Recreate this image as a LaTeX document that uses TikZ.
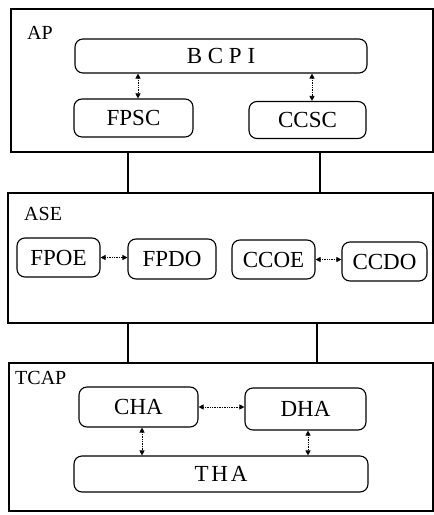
\documentclass[tikz,border=0pt]{standalone}
\usepackage{fontspec}
\setmainfont{Liberation Serif}
\usetikzlibrary{arrows.meta}
\begin{document}
\begin{tikzpicture}[x=1pt,y=-1pt,
  frame/.style={draw,line width=1.6pt,inner sep=0pt,anchor=north west},
  unit/.style={draw,line width=1.1pt,rounded corners=8pt,inner sep=0pt,font=\fontsize{23}{23}\selectfont},
  lbl/.style={anchor=base west,inner sep=0pt,font=\fontsize{20}{20}\selectfont},
  link/.style={line width=1.2pt},
  biarrow/.style={densely dotted,line width=0.7pt,{Triangle[length=5pt,width=5pt]}-{Triangle[length=5pt,width=5pt]}}
]
\useasboundingbox (0,0) rectangle (434,515);
% frames
\node[frame,minimum width=422pt,minimum height=143pt] (ap) at (10,8) {};
\node[frame,minimum width=425pt,minimum height=130pt] (ase) at (7,192) {};
\node[frame,minimum width=424pt,minimum height=148pt] (tcap) at (8,362) {};
% labels
\node[lbl] (aplbl) at (27,39) {AP};
\node[lbl] (aselbl) at (24,220) {ASE};
\node[lbl] (tcaplbl) at (15,384) {TCAP};
% AP units
\node[unit,minimum width=292pt,minimum height=34pt] (bcpi) at (221,56) {B C P I};
\node[unit,minimum width=119pt,minimum height=38pt] (fpsc) at (133.5,118) {FPSC};
\node[unit,minimum width=117pt,minimum height=37pt] (ccsc) at (307.5,120) {CCSC};
\draw[biarrow] (bcpi.south -| 138,0) -- (fpsc.north -| 138,0);
\draw[biarrow] (bcpi.south -| 312,0) -- (ccsc.north -| 312,0);
% ASE units
\node[unit,minimum width=83pt,minimum height=39pt] (fpoe) at (58.5,257.5) {FPOE};
\node[unit,minimum width=88pt,minimum height=40pt] (fpdo) at (172,259) {FPDO};
\node[unit,minimum width=83pt,minimum height=39pt] (ccoe) at (273.5,259.5) {CCOE};
\node[unit,minimum width=85pt,minimum height=39pt] (ccdo) at (384.5,261.5) {CCDO};
\draw[biarrow] (fpoe.east) -- (fpdo.west |- fpoe.east);
\draw[biarrow] (ccoe.east) -- (ccdo.west |- ccoe.east);
% TCAP units
\node[unit,minimum width=119pt,minimum height=40pt] (cha) at (138.5,407) {CHA};
\node[unit,minimum width=121pt,minimum height=42pt] (dha) at (305.5,409) {DHA};
\node[unit,minimum width=294pt,minimum height=36pt] (tha) at (221,474) {\spaceskip=0.12em T H A};
\draw[biarrow] (cha.east) -- (dha.west |- cha.east);
\draw[biarrow] (cha.south -| 142,0) -- (tha.north -| 142,0);
\draw[biarrow] (dha.south -| 308,0) -- (tha.north -| 308,0);
% links between frames
\draw[link] (ap.south -| 128,0) -- (ase.north -| 128,0);
\draw[link] (ap.south -| 320,0) -- (ase.north -| 320,0);
\draw[link] (ase.south -| 128,0) -- (tcap.north -| 128,0);
\draw[link] (ase.south -| 317,0) -- (tcap.north -| 317,0);
\end{tikzpicture}
\end{document}
